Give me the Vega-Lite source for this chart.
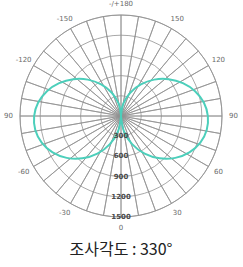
{
  "$schema": "https://vega.github.io/schema/vega-lite/v6.json",
  "width": 202,
  "height": 202,
  "autosize": {"type": "none"},
  "padding": {"left": 20, "top": 15, "right": 21, "bottom": 50},
  "background": "white",
  "config": {"view": {"stroke": null}},
  "title": {"text": "조사각도 : 330°", "orient": "bottom", "font": "Noto Sans CJK KR", "fontSize": 16, "fontWeight": "normal", "color": "#222222", "offset": 11},
  "datasets": {
    "spokes": [
      {"a": 0, "w": 10}, {"a": 10, "w": 10}, {"a": 20, "w": 10}, {"a": 30, "w": 10}, {"a": 40, "w": 10}, {"a": 50, "w": 10},
      {"a": 60, "w": 10}, {"a": 70, "w": 10}, {"a": 80, "w": 10}, {"a": 90, "w": 10}, {"a": 100, "w": 10}, {"a": 110, "w": 10},
      {"a": 120, "w": 10}, {"a": 130, "w": 10}, {"a": 140, "w": 10}, {"a": 150, "w": 10}, {"a": 160, "w": 10}, {"a": 170, "w": 10},
      {"a": 180, "w": 10}, {"a": 190, "w": 10}, {"a": 200, "w": 10}, {"a": 210, "w": 10}, {"a": 220, "w": 10}, {"a": 230, "w": 10},
      {"a": 240, "w": 10}, {"a": 250, "w": 10}, {"a": 260, "w": 10}, {"a": 270, "w": 10}, {"a": 280, "w": 10}, {"a": 290, "w": 10},
      {"a": 300, "w": 10}, {"a": 310, "w": 10}, {"a": 320, "w": 10}, {"a": 330, "w": 10}, {"a": 340, "w": 10}, {"a": 350, "w": 10}
    ],
    "rings": [{"ring": 300}, {"ring": 600}, {"ring": 900}, {"ring": 1200}, {"ring": 1500}],
    "curve": [
      {"side": "R", "ang": 0, "x": 0, "y": 0},
      {"side": "R", "ang": 10, "x": 43, "y": -224},
      {"side": "R", "ang": 20, "x": 165, "y": -418},
      {"side": "R", "ang": 30, "x": 351, "y": -559},
      {"side": "R", "ang": 40, "x": 574, "y": -629},
      {"side": "R", "ang": 50, "x": 806, "y": -622},
      {"side": "R", "ang": 60, "x": 1016, "y": -540},
      {"side": "R", "ang": 70, "x": 1178, "y": -395},
      {"side": "R", "ang": 80, "x": 1273, "y": -207},
      {"side": "R", "ang": 90, "x": 1290, "y": 0},
      {"side": "R", "ang": 100, "x": 1230, "y": 200},
      {"side": "R", "ang": 110, "x": 1100, "y": 369},
      {"side": "R", "ang": 120, "x": 919, "y": 488},
      {"side": "R", "ang": 130, "x": 708, "y": 547},
      {"side": "R", "ang": 140, "x": 492, "y": 540},
      {"side": "R", "ang": 150, "x": 295, "y": 469},
      {"side": "R", "ang": 160, "x": 137, "y": 346},
      {"side": "R", "ang": 170, "x": 35, "y": 183},
      {"side": "R", "ang": 180, "x": 0, "y": 0},
      {"side": "L", "ang": 0, "x": 0, "y": 0},
      {"side": "L", "ang": 10, "x": -43, "y": -224},
      {"side": "L", "ang": 20, "x": -165, "y": -418},
      {"side": "L", "ang": 30, "x": -351, "y": -559},
      {"side": "L", "ang": 40, "x": -574, "y": -629},
      {"side": "L", "ang": 50, "x": -806, "y": -622},
      {"side": "L", "ang": 60, "x": -1016, "y": -540},
      {"side": "L", "ang": 70, "x": -1178, "y": -395},
      {"side": "L", "ang": 80, "x": -1273, "y": -207},
      {"side": "L", "ang": 90, "x": -1290, "y": 0},
      {"side": "L", "ang": 100, "x": -1230, "y": 200},
      {"side": "L", "ang": 110, "x": -1100, "y": 369},
      {"side": "L", "ang": 120, "x": -919, "y": 488},
      {"side": "L", "ang": 130, "x": -708, "y": 547},
      {"side": "L", "ang": 140, "x": -492, "y": 540},
      {"side": "L", "ang": 150, "x": -295, "y": 469},
      {"side": "L", "ang": 160, "x": -137, "y": 346},
      {"side": "L", "ang": 170, "x": -35, "y": 183},
      {"side": "L", "ang": 180, "x": 0, "y": 0}
    ],
    "anglabels": [
      {"ang": 180, "label": "-/+180"},
      {"ang": 150, "label": "150"},
      {"ang": 120, "label": "120"},
      {"ang": 90, "label": "90"},
      {"ang": 60, "label": "60"},
      {"ang": 30, "label": "30"},
      {"ang": 0, "label": "0"},
      {"ang": -30, "label": "-30"},
      {"ang": -60, "label": "-60"},
      {"ang": -90, "label": "90"},
      {"ang": -120, "label": "-120"},
      {"ang": -150, "label": "-150"}
    ],
    "vallabels": [
      {"ang": 0, "val": 300, "label": "300"},
      {"ang": 0, "val": 600, "label": "600"},
      {"ang": 0, "val": 900, "label": "900"},
      {"ang": 0, "val": 1200, "label": "1200"},
      {"ang": 0, "val": 1500, "label": "1500"}
    ]
  },
  "layer": [
    {
      "data": {"name": "spokes"},
      "mark": {"type": "arc", "filled": false, "stroke": "#929292", "strokeWidth": 0.8},
      "encoding": {
        "theta": {"field": "w", "type": "quantitative", "stack": true, "scale": {"domain": [0, 360]}},
        "radius": {"datum": 1500, "type": "quantitative", "scale": {"type": "linear", "domain": [0, 1500], "range": [0, 101], "zero": true}}
      }
    },
    {
      "data": {"name": "rings"},
      "mark": {"type": "arc", "filled": false, "stroke": "#929292", "strokeWidth": 0.8, "theta": 0, "theta2": 6.2832},
      "encoding": {
        "radius": {"field": "ring", "type": "quantitative", "stack": null, "scale": {"type": "linear", "domain": [0, 1500], "range": [0, 101], "zero": true}}
      }
    },
    {
      "data": {"name": "curve"},
      "mark": {"type": "line", "color": "#4ccfbb", "strokeWidth": 2, "interpolate": "cardinal"},
      "encoding": {
        "x": {"field": "x", "type": "quantitative", "scale": {"domain": [-1500, 1500]}, "axis": null},
        "y": {"field": "y", "type": "quantitative", "scale": {"domain": [-1500, 1500]}, "axis": null},
        "detail": {"field": "side"},
        "order": {"field": "ang", "type": "quantitative"}
      }
    },
    {
      "data": {"name": "anglabels"},
      "mark": {"type": "text", "fontSize": 7, "font": "DejaVu Sans", "color": "#6a6a6a", "baseline": "middle", "align": "center"},
      "encoding": {
        "theta": {"field": "ang", "type": "quantitative", "scale": {"domain": [180, -180], "range": [0, 6.2832]}},
        "radius": {"datum": 1670, "type": "quantitative", "scale": {"type": "linear", "domain": [0, 1500], "range": [0, 101], "zero": true}},
        "text": {"field": "label"}
      }
    },
    {
      "data": {"name": "vallabels"},
      "mark": {"type": "text", "fontSize": 7, "font": "DejaVu Sans", "fontWeight": "bold", "color": "#4a4a4a", "baseline": "middle", "align": "center"},
      "encoding": {
        "theta": {"field": "ang", "type": "quantitative", "scale": {"domain": [180, -180], "range": [0, 6.2832]}},
        "radius": {"field": "val", "type": "quantitative", "scale": {"type": "linear", "domain": [0, 1500], "range": [0, 101], "zero": true}},
        "text": {"field": "label"}
      }
    }
  ],
  "resolve": {"scale": {"theta": "independent"}}
}
